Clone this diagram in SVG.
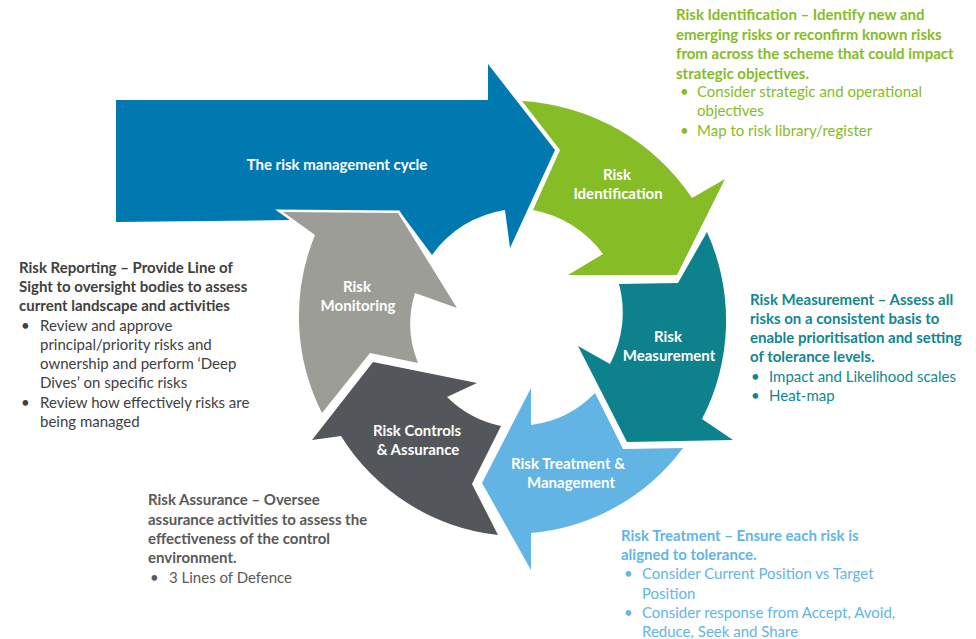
<svg xmlns="http://www.w3.org/2000/svg" width="976" height="639" viewBox="0 0 976 639">
<style>
.lbl{font-family:Lato,"Noto Sans",sans-serif;font-weight:bold;font-size:15px;fill:#fff;text-anchor:middle}
.t{font-family:Lato,"Noto Sans",sans-serif;font-size:15px}
.b{font-weight:bold}
.g{fill:#86BC25}.tl{fill:#12868F}.dk{fill:#404040}.md{fill:#595959}.lb{fill:#62B5E5}
</style>
<rect width="976" height="639" fill="#fff"/>
<g id="cycle-title">
<path d="M116,100 L488,100 L488,64 L555,150 L510,248 L505,210 A110,110 0 0 0 432,255 L400,212 L290,220 L116,222 Z" fill="#0079B0"/>
<text class="lbl" x="337" y="170">The risk management cycle</text>
</g>
<g id="risk-identification">
<path d="M522,101 A220,220 0 0 1 692,198 L725,179 L677,275 L568,275 L603,254 A112,112 0 0 0 533,210 L560,150 Z" fill="#86BC25"/>
<text class="lbl" x="617" y="180">Risk</text>
<text class="lbl" x="618" y="199">Identification</text>
</g>
<g id="risk-measurement">
<path d="M707,232 A214,214 0 0 1 702,419 L733,440 L627,442 L578,346 L610,364 A110,110 0 0 0 619,284 L678,283 Z" fill="#0E828C"/>
<text class="lbl" x="668" y="342">Risk</text>
<text class="lbl" x="669" y="361">Measurement</text>
</g>
<g id="risk-treatment">
<path d="M683,448 A212,212 0 0 1 531,533 L531,570 L482,483 L531,388 L531,425 A108,108 0 0 0 595,393 L623,449 Z" fill="#62B4E4"/>
<text class="lbl" x="568" y="469">Risk Treatment &amp;</text>
<text class="lbl" x="571" y="488">Management</text>
</g>
<g id="risk-controls">
<path d="M498,535 A212,212 0 0 1 341,436 L312,440 L373,362 L477,383 L447,397 A108,108 0 0 0 501,426 L472,484 Z" fill="#53565A"/>
<text class="lbl" x="417" y="436">Risk Controls</text>
<text class="lbl" x="418" y="455">&amp; Assurance</text>
</g>
<g id="risk-monitoring">
<path d="M322,413 A214,214 0 0 1 315,235 L283,212 L398,213 L457,308 L415,293 A104,104 0 0 0 418,363 L370,353 Z" fill="#9D9D98" stroke="#fff" stroke-width="5" stroke-linejoin="miter" paint-order="stroke"/>
<text class="lbl" x="357" y="292">Risk</text>
<text class="lbl" x="358" y="311">Monitoring</text>
</g>
<g id="connectors"></g>
<g id="note-identification" class="t g">
<text class="b" x="676" y="20">Risk Identification – Identify new and</text>
<text class="b" x="676" y="39.5">emerging risks or reconfirm known risks</text>
<text class="b" x="676" y="59">from across the scheme that could impact</text>
<text class="b" x="676" y="78.5">strategic objectives.</text>
<text x="680" y="97">•</text><text x="697" y="97">Consider strategic and operational</text>
<text x="697" y="116">objectives</text>
<text x="680" y="135.5">•</text><text x="697" y="135.5">Map to risk library/register</text>
</g>
<g id="note-measurement" class="t tl">
<text class="b" x="750" y="305">Risk Measurement – Assess all</text>
<text class="b" x="750" y="324">risks on a consistent basis to</text>
<text class="b" x="750" y="343">enable prioritisation and setting</text>
<text class="b" x="750" y="362">of tolerance levels.</text>
<text x="751" y="382">•</text><text x="769" y="382">Impact and Likelihood scales</text>
<text x="751" y="401">•</text><text x="769" y="401">Heat-map</text>
</g>
<g id="note-reporting" class="t dk">
<text class="b" x="19" y="273">Risk Reporting – Provide Line of</text>
<text class="b" x="19" y="292">Sight to oversight bodies to assess</text>
<text class="b" x="19" y="311">current landscape and activities</text>
<text x="21" y="331">•</text><text x="40" y="331">Review and approve</text>
<text x="40" y="350">principal/priority risks and</text>
<text x="40" y="369">ownership and perform ‘Deep</text>
<text x="40" y="388">Dives’ on specific risks</text>
<text x="21" y="408">•</text><text x="40" y="408">Review how effectively risks are</text>
<text x="40" y="427">being managed</text>
</g>
<g id="note-assurance" class="t md">
<text class="b" x="148" y="505">Risk Assurance – Oversee</text>
<text class="b" x="148" y="525">assurance activities to assess the</text>
<text class="b" x="148" y="544">effectiveness of the control</text>
<text class="b" x="148" y="563">environment.</text>
<text x="150" y="583">•</text><text x="169" y="583">3 Lines of Defence</text>
</g>
<g id="note-treatment" class="t lb">
<text class="b" x="621" y="541">Risk Treatment – Ensure each risk is</text>
<text class="b" x="621" y="560">aligned to tolerance.</text>
<text x="624" y="579">•</text><text x="642" y="579">Consider Current Position vs Target</text>
<text x="642" y="599">Position</text>
<text x="624" y="618">•</text><text x="642" y="618">Consider response from Accept, Avoid,</text>
<text x="642" y="637">Reduce, Seek and Share</text>
</g>
</svg>
